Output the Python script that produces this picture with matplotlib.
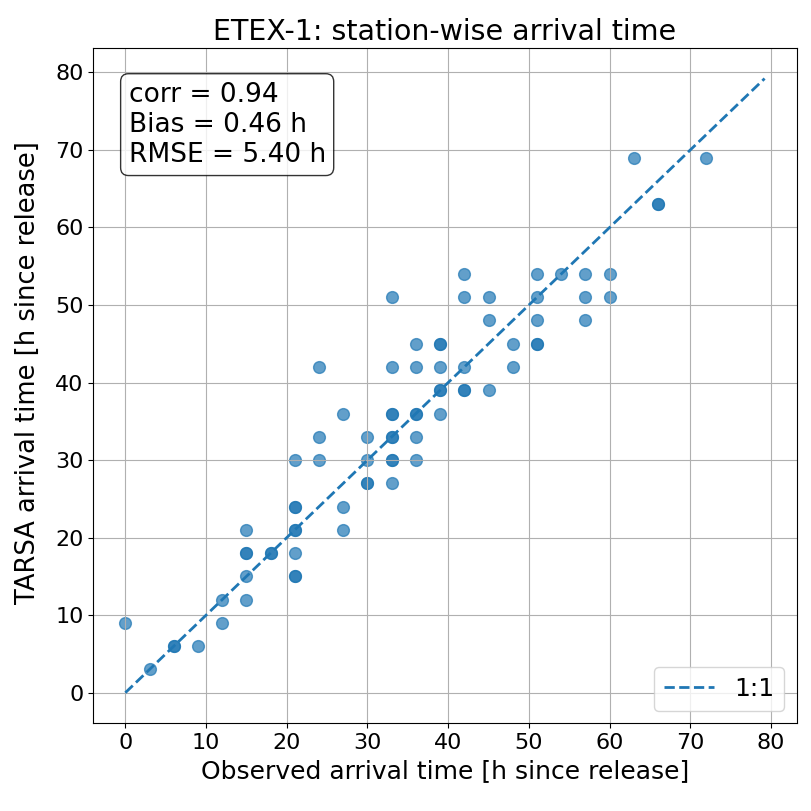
import numpy as np
import matplotlib
matplotlib.use("Agg")
import matplotlib.pyplot as plt

# station-wise arrival times (hours since release), duplicates drawn twice
obs = [0, 3, 6, 6, 9, 12, 12,
       15, 15, 15, 15, 15, 18, 18,
       21, 21, 21, 21, 21, 21, 21, 21,
       24, 24, 24, 27, 27, 27,
       30, 30, 30, 30,
       33, 33, 33, 33, 33, 33, 33, 33, 33,
       36, 36, 36, 36, 36, 36,
       39, 39, 39, 39, 39, 39,
       42, 42, 42, 42, 42,
       45, 45, 45, 48, 48,
       51, 51, 51, 51, 51,
       54, 57, 57, 57, 60, 60,
       63, 66, 66, 72]
tarsa = [9, 3, 6, 6, 6, 9, 12,
         12, 15, 18, 18, 21, 18, 18,
         15, 15, 18, 21, 21, 24, 24, 30,
         30, 33, 42, 21, 24, 36,
         27, 27, 30, 33,
         27, 30, 30, 33, 33, 36, 36, 42, 51,
         30, 33, 36, 36, 42, 45,
         36, 39, 39, 42, 45, 45,
         39, 39, 42, 51, 54,
         39, 48, 51, 42, 45,
         45, 45, 48, 51, 54,
         54, 48, 51, 54, 51, 54,
         69, 63, 63, 69]

stats_text = "corr = 0.94\nBias = 0.46 h\nRMSE = 5.40 h"

fig, ax = plt.subplots(figsize=(8.12, 8.11), dpi=100)
fig.subplots_adjust(left=0.115, right=0.981, top=0.941, bottom=0.108)

ax.scatter(obs, tarsa, s=72, alpha=0.7, color="C0")

lim = max(max(obs), max(tarsa)) * 1.1
ax.plot([0, lim], [0, lim], "--", lw=2, color="C0", label="1:1")

ax.set_title("ETEX-1: station-wise arrival time", fontsize=20.5)
ax.set_xlabel("Observed arrival time [h since release]", fontsize=18)
ax.set_ylabel("TARSA arrival time [h since release]", fontsize=18.5)
ax.yaxis.set_label_coords(-0.074, 0.52)
ax.tick_params(labelsize=16)
ax.grid(True)

ax.text(0.05, 0.95, stats_text, transform=ax.transAxes, va="top", ha="left",
        fontsize=19,
        bbox=dict(boxstyle="round", facecolor="white", alpha=0.8))
ax.legend(loc="lower right", fontsize=18)

fig.savefig("out.png")
